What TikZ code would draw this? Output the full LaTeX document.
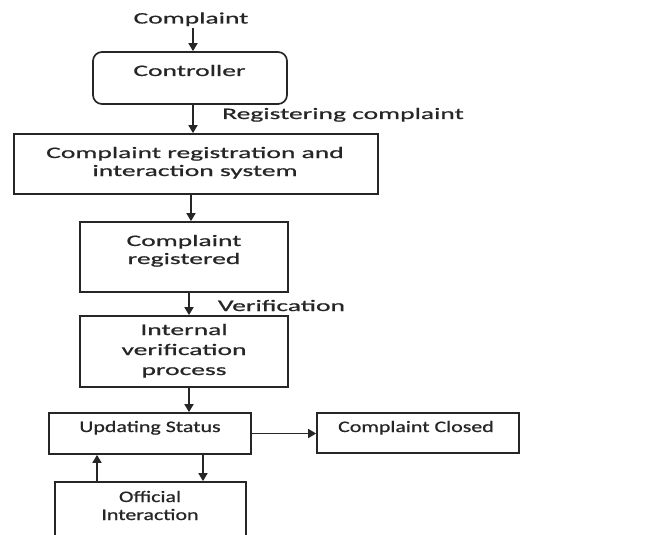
\documentclass[tikz,border=0pt]{standalone}
\usepackage{fontspec}
\setmainfont{Carlito}[FakeStretch=1.72,FakeBold=0.8]
\newfontfamily\narrowfont{Carlito}[FakeStretch=1.37,FakeBold=0.8]
\usetikzlibrary{arrows.meta}
\definecolor{ink}{HTML}{262626}
\newcommand\labelfont{\fontsize{16}{18}\selectfont}
\newcommand\widefont{\fontsize{16}{20}\selectfont}
\newcommand\lowfont{\narrowfont\fontsize{16}{18}\selectfont}
\newcommand\lines[1]{\begin{tabular}[t]{@{}c@{}}#1\end{tabular}}
\begin{document}
\begin{tikzpicture}[x=1pt,y=-1pt,
  box/.style={draw=ink, line width=1.7pt, inner sep=0pt, rectangle},
  lbl/.style={text=ink, inner sep=0pt, anchor=base, font=\labelfont},
  arr/.style={draw=ink, line width=1.6pt, -{Triangle[length=8pt,width=9pt]}}]
  \useasboundingbox (0,0) rectangle (657,535);
  \fill[white] (0,0) rectangle (657,535);
  \clip (0,0) rectangle (657,535);

  % boxes
  \node[box, rounded corners=9pt, minimum width=194pt, minimum height=52pt] (ctrl) at (190,78) {};
  \node[box, minimum width=364pt, minimum height=60pt] (sys) at (196,164) {};
  \node[box, minimum width=208pt, minimum height=70pt] (reg) at (184,257) {};
  \node[box, minimum width=208pt, minimum height=71pt] (ver) at (184,351.5) {};
  \node[box, minimum width=202pt, minimum height=41pt] (upd) at (150,433.5) {};
  \node[box, minimum width=202pt, minimum height=40pt] (closed) at (418,433) {};
  \node[box, minimum width=191pt, minimum height=78pt] (off) at (150.5,521) {};

  % texts
  \node[lbl, inner sep=1.5pt] (cplt) at (191,23.5) {Complaint};
  \node[lbl] (ctrlT) at (189.5,76) {Controller};
  \node[lbl] (regLbl) at (343,119) {Registering complaint};
  \node[lbl] (sysT) at (195,158) {\lines{Complaint registration and\\interaction system}};
  \node[lbl] (regT) at (184,246) {\lines{Complaint\\registered}};
  \node[lbl] (verLbl) at (281.5,311) {Verification};
  \node[lbl, font=\widefont] (verT) at (184,335) {\lines{Internal\\verification\\process}};
  \node[lbl, font=\lowfont] (updT) at (150,432) {Updating Status};
  \node[lbl, font=\lowfont] (closedT) at (416,432) {Complaint Closed};
  \node[lbl, font=\lowfont] (offT) at (150,502) {\lines{Official\\Interaction}};

  % connectors
  \draw[arr] ([xshift=2pt]cplt.south) -- ([xshift=2pt]cplt.south |- ctrl.north);
  \draw[arr] ([xshift=3pt]ctrl.south) -- ([xshift=3pt]ctrl.south |- sys.north);
  \draw[arr] ([xshift=-5pt]sys.south) -- ([xshift=-5pt]sys.south |- reg.north);
  \draw[arr] ([xshift=5pt]reg.south) -- ([xshift=5pt]reg.south |- ver.north);
  \draw[arr] ([xshift=5pt]ver.south) -- ([xshift=5pt]ver.south |- upd.north);
  \draw[arr] (upd.east) -- (upd.east -| closed.west);
  \draw[arr] ([xshift=-53.5pt]off.north) -- ([xshift=-53.5pt]off.north |- upd.south);
  \draw[arr] ([xshift=53pt]upd.south) -- ([xshift=53pt]upd.south |- off.north);
\end{tikzpicture}
\end{document}
